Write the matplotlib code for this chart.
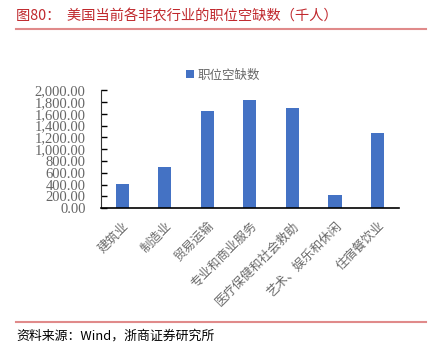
import matplotlib.pyplot as plt
from matplotlib.lines import Line2D

plt.rcParams['font.family'] = ['Noto Sans CJK SC', 'DejaVu Sans']

categories = ['建筑业', '制造业', '贸易运输', '专业和商业服务', '医疗保健和社会救助', '艺术、娱乐和休闲', '住宿餐饮业']
openings = [410, 700, 1645, 1840, 1705, 222, 1282]
yticks_vals = list(range(0, 2001, 200))

fig = plt.figure(figsize=(4.33, 3.54), dpi=100)
ax = fig.add_axes([0.233, 0.412, 0.688, 0.333])

ax.bar(range(len(categories)), openings, width=0.31, color='#4472C4', label='职位空缺数')
ax.set_xlim(-0.5, len(categories) - 0.5)
ax.set_ylim(0, 2000)
ax.set_yticks(yticks_vals)
ax.set_yticklabels(['{:,.2f}'.format(v) for v in yticks_vals],
                   family='Liberation Serif', fontsize=10.5, color='#666666')
ax.yaxis.set_tick_params(direction='in', length=4, width=1, pad=11)
ax.set_xticks(range(len(categories)))
ax.set_xticklabels(categories, rotation=45, ha='right', rotation_mode='anchor',
                   fontsize=9, color='#6a6a6a')
ax.xaxis.set_tick_params(length=0, pad=8)
for s in ['top', 'right']:
    ax.spines[s].set_visible(False)
ax.spines['left'].set_color('#333333')
ax.spines['bottom'].set_color('black')
ax.spines['bottom'].set_linewidth(1.2)

ax.legend(loc='upper center', bbox_to_anchor=(0.41, 1.28), frameon=False,
          fontsize=9, handlelength=0.6, handleheight=0.6, handletextpad=0.3,
          labelcolor='#666666')

# title and source
fig.text(0.038, 0.955, '图80：  美国当前各非农行业的职位空缺数（千人）', fontsize=10.3,
         color='#C0282D', va='center')
fig.add_artist(Line2D([0.037, 0.984], [0.918, 0.918], color='#E08A8A', lw=1.5))
fig.add_artist(Line2D([0.037, 0.984], [0.091, 0.091], color='#E08A8A', lw=1.5))
fig.text(0.038, 0.05, '资料来源：Wind，浙商证券研究所', fontsize=9.3, color='black', va='center')

fig.savefig('out.png', dpi=100)
